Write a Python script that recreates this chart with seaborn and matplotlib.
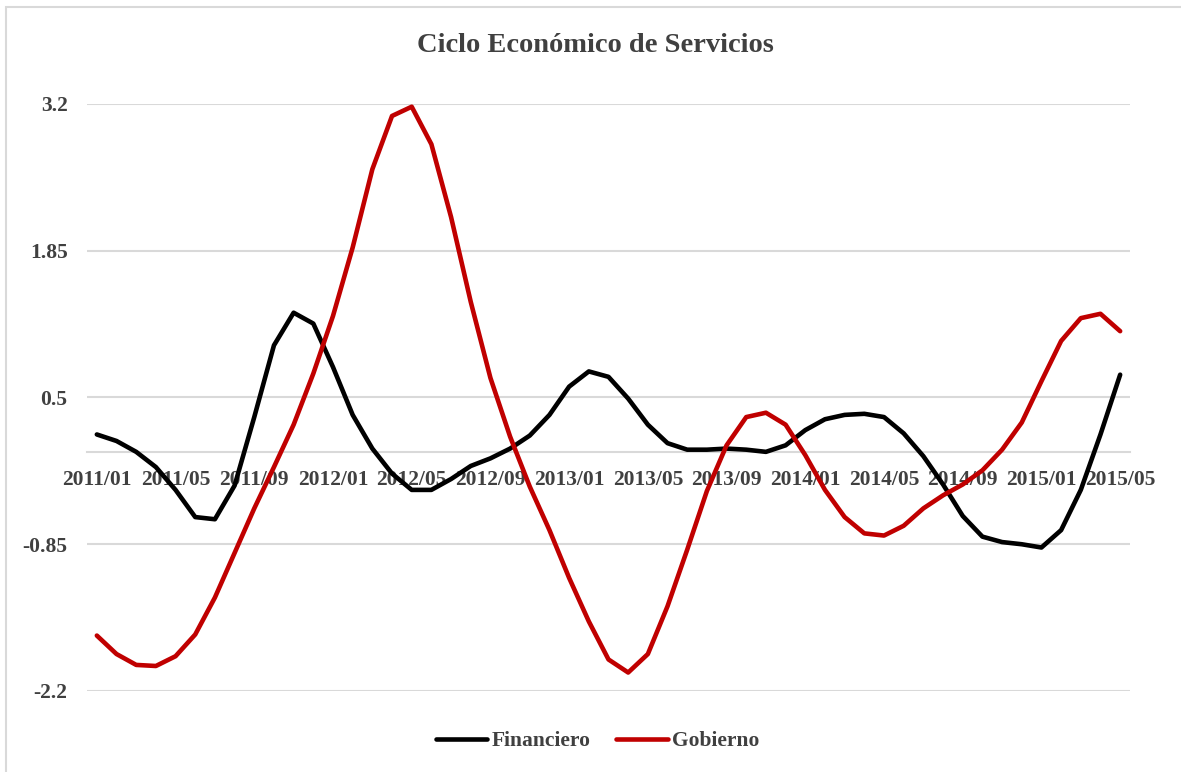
import matplotlib.pyplot as plt
import matplotlib.patches as mpatches
import pandas as pd
import seaborn as sns

# monthly periods 2011/01 .. 2015/05
periodos = [f"{a}/{m:02d}" for a in range(2011, 2016) for m in range(1, 13)][:53]

financiero = [0.16, 0.10, 0.00, -0.14, -0.35, -0.60, -0.62, -0.31, 0.32, 0.98,
              1.28, 1.18, 0.78, 0.34, 0.03, -0.20, -0.35, -0.35, -0.25, -0.13,
              -0.06, 0.03, 0.15, 0.34, 0.60, 0.74, 0.69, 0.49, 0.25, 0.08,
              0.02, 0.02, 0.03, 0.02, 0.00, 0.06, 0.20, 0.30, 0.34, 0.35,
              0.32, 0.17, -0.04, -0.30, -0.59, -0.78, -0.83, -0.85, -0.88, -0.72,
              -0.35, 0.16, 0.71]

gobierno = [-1.69, -1.86, -1.96, -1.97, -1.88, -1.68, -1.34, -0.93, -0.52, -0.14,
            0.25, 0.72, 1.25, 1.88, 2.60, 3.09, 3.175, 2.83, 2.16, 1.38,
            0.68, 0.14, -0.32, -0.72, -1.16, -1.56, -1.91, -2.03, -1.86, -1.42,
            -0.90, -0.36, 0.06, 0.32, 0.36, 0.25, -0.03, -0.35, -0.60, -0.75,
            -0.77, -0.68, -0.52, -0.40, -0.30, -0.17, 0.02, 0.27, 0.65, 1.02,
            1.23, 1.27, 1.11]

y_ticks = [-2.2, -0.85, 0.5, 1.85, 3.2]
y_labels = ["-2.2", "-0.85", "0.5", "1.85", "3.2"]

sns.set_theme(style="white")
plt.rcParams["font.family"] = ["Liberation Serif", "DejaVu Serif"]

txt = "#404040"
grid = "#d9d9d9"

df = pd.DataFrame({"pos": range(len(periodos)), "Financiero": financiero, "Gobierno": gobierno})
long = df.melt(id_vars="pos", var_name="serie", value_name="valor")

fig = plt.figure(figsize=(11.81, 7.72), dpi=100)
ax = fig.add_axes([87 / 1181, 1 - 691 / 772, (1130 - 87) / 1181, 587 / 772])

sns.lineplot(data=long, x="pos", y="valor", hue="serie",
             palette={"Financiero": "#000000", "Gobierno": "#C00000"},
             linewidth=3.3, ax=ax, legend=True)
for ln in ax.get_lines():
    ln.set_solid_capstyle("round")
    ln.set_solid_joinstyle("round")

ax.set_xlim(-0.5, len(periodos) - 0.5)
ax.set_ylim(-2.2, 3.2)
ax.set_yticks(y_ticks)
ax.set_yticklabels(y_labels)
xt = list(range(0, len(periodos), 4))
ax.set_xticks(xt)
ax.set_xticklabels([periodos[i] for i in xt])
ax.set_xlabel("")
ax.set_ylabel("")

ax.yaxis.grid(True, color=grid, linewidth=1.5)
ax.set_axisbelow(True)
for s in ["top", "right", "left"]:
    ax.spines[s].set_visible(False)
ax.spines["bottom"].set_position(("data", 0))
ax.spines["bottom"].set_color(grid)
ax.spines["bottom"].set_linewidth(1.5)
ax.spines["bottom"].set_zorder(0.5)

ax.tick_params(axis="x", length=0, pad=13, labelsize=15.5, labelcolor=txt)
ax.tick_params(axis="y", length=0, pad=14, labelsize=15.5, labelcolor=txt)
for lab in ax.get_xticklabels() + ax.get_yticklabels():
    lab.set_fontweight("bold")

handles, labels = ax.get_legend_handles_labels()
ax.get_legend().remove()
leg = fig.legend(handles, labels, loc="center", bbox_to_anchor=(0.506, 1 - 741 / 772),
                 ncol=2, frameon=False, handlelength=2.4, handletextpad=0.2,
                 columnspacing=1.2, prop={"size": 15.5, "weight": "bold"})
for t in leg.get_texts():
    t.set_color(txt)
for h in leg.get_lines():
    h.set_linewidth(3.3)
    h.set_solid_capstyle("round")

fig.text(0.504, 1 - 46 / 772, "Ciclo Económico de Servicios", ha="center", va="center",
         fontsize=20.5, fontweight="bold", color=txt)

fig.patches.append(mpatches.Rectangle((5.5 / 1181, -0.1), 1.2, 1.1 - 7 / 772,
                                      transform=fig.transFigure, fill=False,
                                      edgecolor=grid, linewidth=1.5))

fig.savefig("out.png", dpi=100)
